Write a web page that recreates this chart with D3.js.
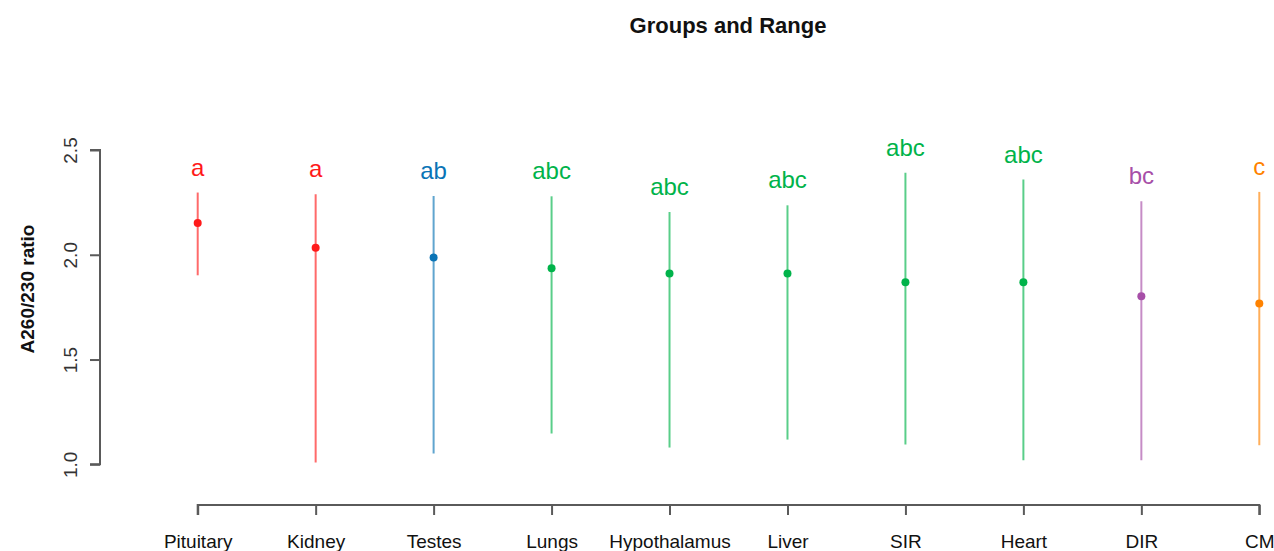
<!DOCTYPE html>
<html>
<head>
<meta charset="utf-8">
<script src="https://cdn.jsdelivr.net/npm/d3@7"></script>
<style>
  html, body { margin: 0; padding: 0; background: #fff; }
  svg { display: block; font-family: "Liberation Sans", Arial, sans-serif; }
</style>
</head>
<body>
<svg id="chart" width="1274" height="551"></svg>
<script>
// Tissue groups, in plotting order
const groups = ["Pituitary", "Kidney", "Testes", "Lungs", "Hypothalamus", "Liver", "SIR", "Heart", "DIR", "CM"];
// Mean A260/230 ratio per group
const means = [2.152, 2.034, 1.987, 1.936, 1.910, 1.910, 1.869, 1.869, 1.802, 1.767];
// Range (min / max) per group
const mins = [1.902, 1.008, 1.051, 1.147, 1.080, 1.118, 1.094, 1.019, 1.019, 1.091];
const maxs = [2.297, 2.289, 2.281, 2.279, 2.204, 2.236, 2.391, 2.359, 2.255, 2.300];
// Significance letters
const letters = ["a", "a", "ab", "abc", "abc", "abc", "abc", "abc", "bc", "c"];
// Y-axis ticks
const yTicks = [1.0, 1.5, 2.0, 2.5];

// Colour by letter group
const letterColor = {
  "a": "#FF1A1A",
  "ab": "#0A74B6",
  "abc": "#00B34A",
  "bc": "#A74FA8",
  "c": "#FF8200"
};

const svg = d3.select("#chart");
const axisColor = "#5a5a5a";

const x = d3.scaleLinear().domain([0, groups.length - 1]).range([197.7, 1259.3]);
const y = d3.scaleLinear().domain([1.0, 2.5]).range([464.3, 150]);

// Title
svg.append("text")
  .attr("x", 728).attr("y", 33)
  .attr("text-anchor", "middle")
  .attr("font-size", 22).attr("font-weight", "bold")
  .attr("fill", "#111")
  .text("Groups and Range");

// Y axis
const yAxis = d3.axisLeft(y).tickValues(yTicks).tickFormat(d3.format(".1f")).tickSize(10).tickPadding(0);
const gy = svg.append("g").attr("transform", "translate(100,0)").call(yAxis);
gy.select(".domain").attr("stroke", axisColor).attr("stroke-width", 2).attr("d", `M-10,${y(1.0)}H0V${y(2.5)}H-10`);
gy.selectAll(".tick line").attr("stroke", axisColor).attr("stroke-width", 2);
gy.selectAll(".tick text")
  .attr("font-size", 19)
  .attr("fill", "#333")
  .attr("transform", "rotate(-90)")
  .attr("x", 0).attr("y", -23)
  .attr("dy", 0)
  .attr("text-anchor", "middle");

// Y axis title
svg.append("text")
  .attr("transform", "translate(34,289) rotate(-90)")
  .attr("text-anchor", "middle")
  .attr("font-size", 19).attr("font-weight", "bold")
  .attr("fill", "#111")
  .text("A260/230 ratio");

// X axis
const xAxis = d3.axisBottom(x).tickValues(d3.range(groups.length)).tickFormat(i => groups[i]).tickSize(10).tickPadding(0);
const gx = svg.append("g").attr("transform", "translate(0,505)").call(xAxis);
gx.select(".domain").attr("stroke", axisColor).attr("stroke-width", 2)
  .attr("d", `M${x(0)},10V0H${x(groups.length - 1)}V10`);
gx.selectAll(".tick line").attr("stroke", axisColor).attr("stroke-width", 2);
gx.selectAll(".tick text")
  .attr("font-size", 19)
  .attr("fill", "#111")
  .attr("y", 43).attr("dy", 0);

// Range lines
const data = groups.map((g, i) => ({
  g, i, mean: means[i], min: mins[i], max: maxs[i], letter: letters[i], color: letterColor[letters[i]]
}));

const marks = svg.append("g");
marks.selectAll("line.range").data(data).join("line")
  .attr("class", "range")
  .attr("x1", d => x(d.i)).attr("x2", d => x(d.i))
  .attr("y1", d => y(d.min)).attr("y2", d => y(d.max))
  .attr("stroke", d => d.color)
  .attr("stroke-opacity", 0.65)
  .attr("stroke-width", 2);

marks.selectAll("circle.mean").data(data).join("circle")
  .attr("class", "mean")
  .attr("cx", d => x(d.i)).attr("cy", d => y(d.mean))
  .attr("r", 4)
  .attr("fill", d => d.color);

// Letters sit just above each range's maximum
marks.selectAll("text.letter").data(data).join("text")
  .attr("class", "letter")
  .attr("x", d => x(d.i)).attr("y", d => y(d.max) - 17)
  .attr("text-anchor", "middle")
  .attr("font-size", 24)
  .attr("fill", d => d.color)
  .text(d => d.letter);
</script>
</body>
</html>
